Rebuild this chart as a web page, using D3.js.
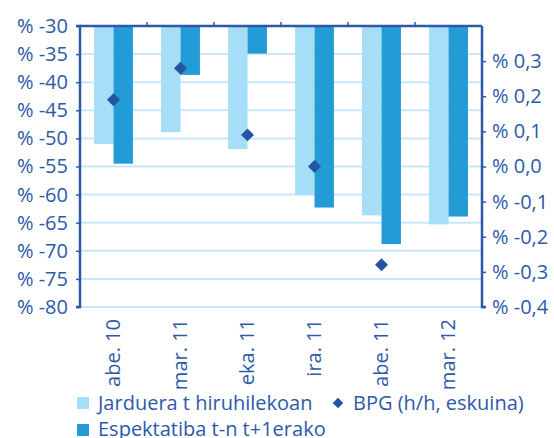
<!DOCTYPE html>
<html>
<head>
<meta charset="utf-8">
<script src="https://cdn.jsdelivr.net/npm/d3@7"></script>
<style>
  body { margin: 0; background: #fff; }
  svg text { font-family: "Open Sans", Lato, sans-serif; fill: #2c5aa8; }
</style>
</head>
<body>
<svg id="chart" width="554" height="438"></svg>
<script>
const categories = ["abe. 10", "mar. 11", "eka. 11", "ira. 11", "abe. 11", "mar. 12"];
const jarduera = [-51.0, -48.9, -51.9, -60.1, -63.7, -65.3];
const espektatiba = [-54.5, -38.7, -34.9, -62.3, -68.8, -63.9];
const bpg = [0.19, 0.28, 0.09, 0.0, -0.28, null];
const leftTicks = [-30, -35, -40, -45, -50, -55, -60, -65, -70, -75, -80];
const rightTicks = [0.3, 0.2, 0.1, 0.0, -0.1, -0.2, -0.3, -0.4];

const blue = "#2c5aa8", light = "#a6def7", dark = "#229bd6", grid = "#c6e8f8";

const svg = d3.select("#chart");
const m = {left: 80, right: 482, top: 26, bottom: 307};

const x = d3.scaleBand().domain(categories).range([m.left, m.right]).paddingInner(0.42).paddingOuter(0.21);
const xs = d3.scaleBand().domain([0, 1]).range([0, x.bandwidth()]);
const y = d3.scaleLinear().domain([-80, -30]).range([m.bottom, m.top]);
const y2 = d3.scaleLinear().domain([-0.4, 0.4]).range([m.bottom, m.top]);

// gridlines
svg.append("g").selectAll("line").data(leftTicks.slice(1)).join("line")
  .attr("x1", m.left).attr("x2", m.right)
  .attr("y1", d => y(d)).attr("y2", d => y(d))
  .attr("stroke", grid).attr("stroke-width", 2);

// bars hang from -30
const bars = svg.append("g");
bars.selectAll(".j").data(categories).join("rect")
  .attr("x", d => x(d) + xs(0)).attr("width", xs.bandwidth())
  .attr("y", m.top).attr("height", (d, i) => y(jarduera[i]) - m.top)
  .attr("fill", light);
bars.selectAll(".e").data(categories).join("rect")
  .attr("x", d => x(d) + xs(1)).attr("width", xs.bandwidth())
  .attr("y", m.top).attr("height", (d, i) => y(espektatiba[i]) - m.top)
  .attr("fill", dark);

// diamonds
const diamond = d3.symbol().type(d3.symbolSquare).size(84);
svg.append("g").selectAll("path").data(categories.filter((c, i) => bpg[i] !== null)).join("path")
  .attr("d", diamond)
  .attr("transform", (d) => `translate(${x(d) + x.bandwidth() / 2},${y2(bpg[categories.indexOf(d)])}) rotate(45)`)
  .attr("fill", "#2654a5");

// left axis
const yAxis = svg.append("g").attr("transform", `translate(${m.left},0)`)
  .call(d3.axisLeft(y).tickValues(leftTicks).tickSize(4).tickPadding(8)
    .tickFormat(d => "% " + d));
yAxis.select(".domain").attr("stroke", blue).attr("stroke-width", 2.5).attr("d", `M-4,${m.top}H0V${m.bottom}H-4`);
yAxis.selectAll(".tick line").attr("stroke", blue).attr("stroke-width", 1.5);
yAxis.selectAll(".tick text").attr("font-size", 20).style("fill", blue);

// right axis
const fmt = d => "% " + d.toFixed(1).replace(".", ",").replace("-0,0", "0,0");
const y2Axis = svg.append("g").attr("transform", `translate(${m.right},0)`)
  .call(d3.axisRight(y2).tickValues(rightTicks).tickSize(4).tickPadding(6).tickFormat(fmt));
y2Axis.select(".domain").attr("stroke", blue).attr("stroke-width", 2.5).attr("d", `M0,${m.top}V${m.bottom}H4`);
y2Axis.selectAll(".tick line").attr("stroke", blue).attr("stroke-width", 1.5);
y2Axis.selectAll(".tick text").attr("font-size", 20).style("fill", blue);

// top category line with upward ticks at band boundaries
const bounds = categories.slice(1).map(c => x(c) - x.step() * x.paddingInner() / 2);
svg.append("line").attr("x1", m.left).attr("x2", m.right).attr("y1", m.top).attr("y2", m.top)
  .attr("stroke", blue).attr("stroke-width", 2.5);
svg.append("g").selectAll("line").data(bounds).join("line")
  .attr("x1", d => d).attr("x2", d => d).attr("y1", m.top).attr("y2", m.top - 4)
  .attr("stroke", blue).attr("stroke-width", 1.5);

// category labels (rotated)
svg.append("g").selectAll("text").data(categories).join("text")
  .attr("transform", d => `translate(${x(d) + x.bandwidth() / 2 + 6},${m.bottom + 12}) rotate(-90)`)
  .attr("text-anchor", "end").attr("font-size", 20).text(d => d);

// legend
const leg = svg.append("g");
leg.append("rect").attr("x", 77).attr("y", 397).attr("width", 12).attr("height", 12).attr("fill", light);
leg.append("text").attr("x", 98).attr("y", 410).attr("font-size", 20).text("Jarduera t hiruhilekoan");
leg.append("rect").attr("x", 77).attr("y", 424).attr("width", 12).attr("height", 12).attr("fill", dark);
leg.append("text").attr("x", 98).attr("y", 436).attr("font-size", 20).text("Espektatiba t-n t+1erako");
leg.append("path").attr("d", d3.symbol().type(d3.symbolSquare).size(56))
  .attr("transform", "translate(338,403) rotate(45)").attr("fill", "#2654a5");
leg.append("text").attr("x", 353).attr("y", 410).attr("font-size", 20).text("BPG (h/h, eskuina)");
</script>
</body>
</html>
